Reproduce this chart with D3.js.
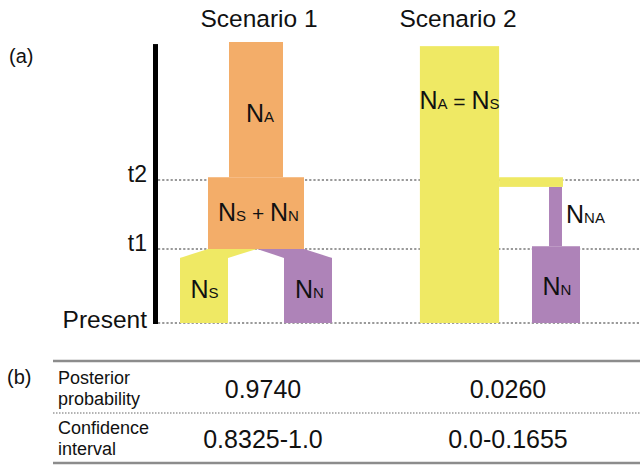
<!DOCTYPE html>
<html>
<head>
<meta charset="utf-8">
<script src="https://cdn.jsdelivr.net/npm/d3@7"></script>
<style>
  body { margin: 0; background: #fff; }
  svg { display: block; font-family: "Liberation Sans", Arial, Helvetica, sans-serif; }
</style>
</head>
<body>
<svg id="chart" width="640" height="465"></svg>
<script>
// ---- Data -------------------------------------------------------------
const scenarios = ["Scenario 1", "Scenario 2"];

// Time axis marks (time measured in split-event units, 0 = present)
const timeLabels = ["Present", "t1", "t2"];
const timeValues = [0, 1, 2];
const axisTop = 3.97;

// Population blocks: label parts ([text, kind: 0 main, 1 subscript, 2 operator]),
// relative size in N units, time span [from, to], colour key
const popLane = ["s1anc", "s1mid", "s1S", "s1N", "s2anc", "s2NA", "s2N"];
const popLabels = [
  [["N", 0], ["A", 1]],
  [["N", 0], ["S", 1], [" + ", 2], ["N", 0], ["N", 1]],
  [["N", 0], ["S", 1]],
  [["N", 0], ["N", 1]],
  [["N", 0], ["A", 1], [" = ", 2], ["N", 0], ["S", 1]],
  [["N", 0], ["NA", 1]],
  [["N", 0], ["N", 1]]
];
const popSizes  = [1.125, 2, 1, 1, 1.65, 0.27, 1];
const popFrom   = [2.04, 1, 0, 0, 0, 1.04, 0];
const popTo     = [4.0, 2.04, 0.88, 0.88, 3.94, 1.90, 1.04];
const popColors = ["anc", "anc", "south", "north", "south", "north", "north"];

// Scenario 1 split at t1: parent block index, child index, which half of the parent
const splitParent = [1, 1];
const splitChild  = [2, 3];
const splitHalf   = [0, 1];
const splitTime   = [1, 1];

// Scenario 2 admixture connector: from block, to block, time span
const connFrom = 4, connTo = 5, connTimes = [1.90, 2.04];

// Table (b)
const rowLabels = [["Posterior", "probability"], ["Confidence", "interval"]];
const posterior = [0.9740, 0.0260];
const ciLower   = [0.8325, 0.0];
const ciUpper   = [1.0, 0.1655];

// ---- Layout & style ---------------------------------------------------
const colors = { anc: "#F3AD69", south: "#EFE964", north: "#AE83B8" };
const laneCenter = { s1anc: 256, s1mid: 256, s1S: 204, s1N: 308, s2anc: 459.5, s2NA: 555.5, s2N: 556 };
const labelPos = [
  { x: 260, y: 122, anchor: "middle" },
  { x: 258.5, y: 221, anchor: "middle" },
  { x: 204.5, y: 298, anchor: "middle" },
  { x: 309.5, y: 298, anchor: "middle" },
  { x: 459.5, y: 109, anchor: "middle" },
  { x: 566, y: 223, anchor: "start" },
  { x: 557, y: 295, anchor: "middle" }
];
const partSize = [25, 15, 21];

const svg = d3.select("#chart");

// Vertical time scale (piecewise, as the diagram's intervals differ slightly)
const y = d3.scaleLinear().domain([0, 1, 2, 4]).range([323, 249, 180, 42]);
// Width scale: one population-size unit
const w = d3.scaleLinear().domain([0, 1]).range([0, 48]);

const blocks = popSizes.map((s, i) => {
  const c = laneCenter[popLane[i]];
  return {
    x0: c - w(s) / 2, x1: c + w(s) / 2,
    y0: y(popTo[i]), y1: y(popFrom[i]),
    color: colors[popColors[i]]
  };
});

// Dotted time lines (behind the populations)
svg.append("g").selectAll("line").data(timeValues).join("line")
  .attr("x1", 158).attr("x2", 640)
  .attr("y1", d => y(d)).attr("y2", d => y(d))
  .attr("stroke", "#9a9a9a").attr("stroke-width", 2.2)
  .attr("stroke-dasharray", "2.2,2");

// Time axis bar
svg.append("rect")
  .attr("x", 153).attr("width", 5)
  .attr("y", y(axisTop)).attr("height", y(0) - y(axisTop) + 1)
  .attr("fill", "#000");

// Time labels
svg.append("g").selectAll("text").data(timeLabels).join("text")
  .attr("x", 147)
  .attr("y", (d, i) => y(timeValues[i]) + (i === 0 ? 5 : 2))
  .attr("text-anchor", "end")
  .attr("font-size", (d, i) => i === 0 ? 24.5 : 23)
  .attr("fill", "#111")
  .text(d => d);

// Population blocks
svg.append("g").selectAll("rect").data(blocks).join("rect")
  .attr("x", d => d.x0).attr("width", d => d.x1 - d.x0)
  .attr("y", d => d.y0).attr("height", d => d.y1 - d.y0)
  .attr("fill", d => d.color);

// Split trapezoids (scenario 1)
svg.append("g").selectAll("polygon").data(splitParent).join("polygon")
  .attr("points", (p, i) => {
    const par = blocks[p], ch = blocks[splitChild[i]];
    const mid = (par.x0 + par.x1) / 2 + 1;
    const a = splitHalf[i] === 0 ? par.x0 : mid;
    const b = splitHalf[i] === 0 ? mid : par.x1;
    const yt = y(splitTime[i]);
    return [[a, yt], [b, yt], [ch.x1, ch.y0], [ch.x0, ch.y0]].join(" ");
  })
  .attr("fill", (p, i) => blocks[splitChild[i]].color);

// Admixture connector (scenario 2)
svg.append("rect")
  .attr("x", blocks[connFrom].x1)
  .attr("width", blocks[connTo].x1 + 1 - blocks[connFrom].x1)
  .attr("y", y(connTimes[1]))
  .attr("height", y(connTimes[0]) - y(connTimes[1]))
  .attr("fill", blocks[connFrom].color);

// Population labels with subscripts
const lab = svg.append("g").selectAll("text").data(popLabels).join("text")
  .attr("x", (d, i) => labelPos[i].x)
  .attr("y", (d, i) => labelPos[i].y)
  .attr("text-anchor", (d, i) => labelPos[i].anchor)
  .attr("fill", "#111");
lab.selectAll("tspan").data(d => d).join("tspan")
  .attr("font-size", d => partSize[d[1]])
  .attr("xml:space", "preserve")
  .text(d => d[0]);

// Scenario titles
const titleX = [259, 458];
svg.append("g").selectAll("text").data(scenarios).join("text")
  .attr("x", (d, i) => titleX[i]).attr("y", 27)
  .attr("text-anchor", "middle").attr("font-size", 24.5)
  .attr("fill", "#111")
  .text(d => d);

// Panel letters
svg.append("text").attr("x", 9).attr("y", 63).attr("font-size", 20).attr("fill", "#111").text("(a)");
svg.append("text").attr("x", 7).attr("y", 384).attr("font-size", 20).attr("fill", "#111").text("(b)");

// ---- Table (b) -------------------------------------------------------
const fmt = v => (Math.abs(v * 10 - Math.round(v * 10)) < 1e-9 ? v.toFixed(1) : v.toFixed(4));
const colX = [263, 508];
const rowBase = [398, 448];
const tableRows = [
  posterior.map(fmt),
  ciLower.map((lo, i) => fmt(lo) + "-" + fmt(ciUpper[i]))
];

svg.append("g").selectAll("line").data([361, 463]).join("line")
  .attr("x1", 53).attr("x2", 640)
  .attr("y1", d => d).attr("y2", d => d)
  .attr("stroke", "#8c8c8c").attr("stroke-width", 2.6);
svg.append("line")
  .attr("x1", 53).attr("x2", 640).attr("y1", 413).attr("y2", 413)
  .attr("stroke", "#9a9a9a").attr("stroke-width", 1.4)
  .attr("stroke-dasharray", "1.5,1.5");

rowLabels.forEach((lines, r) => {
  svg.append("g").selectAll("text").data(lines).join("text")
    .attr("x", 58)
    .attr("y", (d, k) => [384, 434][r] + k * 20.5)
    .attr("font-size", 18)
    .attr("fill", "#111")
    .text(d => d);
  svg.append("g").selectAll("text").data(tableRows[r]).join("text")
    .attr("x", (d, c) => colX[c]).attr("y", rowBase[r])
    .attr("text-anchor", "middle").attr("font-size", 25)
    .attr("fill", "#111")
    .text(d => d);
});
</script>
</body>
</html>
